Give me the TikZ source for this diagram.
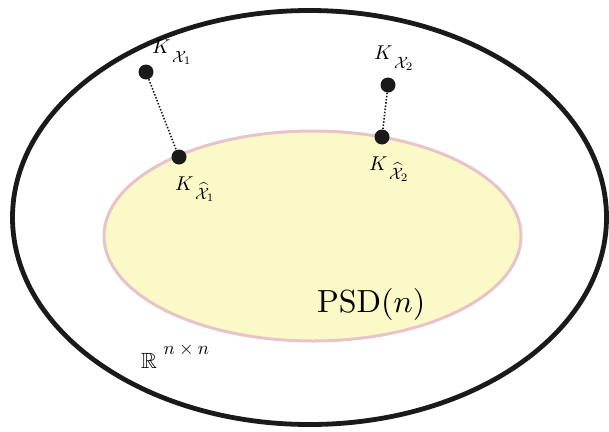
\documentclass[tikz,border=0pt]{standalone}
\usepackage{graphicx}
\usepackage{amsmath,amssymb}
\definecolor{psdfill}{HTML}{FCF9C8}
\definecolor{psdedge}{HTML}{E8C3C9}
\definecolor{dotc}{HTML}{1A1A1A}
\newcommand{\klbl}[1]{\scalebox{2.0}{$K$\hspace{0.8pt}\raisebox{-4.5pt}{\scalebox{0.82}{$#1$}}}}
\begin{document}
\begin{tikzpicture}[x=1pt,y=-1pt,
  pt/.style={circle,fill=dotc,inner sep=0pt,minimum size=15pt},
  lab/.style={inner sep=0pt,anchor=base west},
  conn/.style={line width=1.6pt,dotc,dash pattern=on 1.5pt off 1.7pt}]
\useasboundingbox (0,0) rectangle (609,431);
\draw[line width=4.8pt,dotc] (309.5,217.5) ellipse [x radius=297, y radius=207];
\draw[line width=3pt,psdedge,fill=psdfill] (312.5,236) ellipse [x radius=208.5, y radius=105];
\node[pt] (x1) at (146,72) {};
\node[pt] (h1) at (179,157) {};
\node[pt] (x2) at (388,85) {};
\node[pt] (h2) at (382,137) {};
\draw[conn] (x1) -- (h1);
\draw[conn] (x2) -- (h2);
\node[lab] (lx1) at (152,53) {\klbl{\mathcal{X}_1}};
\node[lab] (lx2) at (374,59) {\klbl{\mathcal{X}_2}};
\node[lab] (lh1) at (175,190) {\klbl{\widehat{\mathcal{X}}_1}};
\node[lab] (lh2) at (369,170) {\klbl{\widehat{\mathcal{X}}_2}};
\node[lab] (psd) at (317,312) {\scalebox{3.2}{$\mathrm{PSD}(n)$}};
\node[lab] (rn) at (141,368) {\scalebox{2.2}{$\mathbb{R}$\hspace{3pt}\raisebox{6pt}{\scalebox{0.85}{$n\times n$}}}};
\end{tikzpicture}
\end{document}
